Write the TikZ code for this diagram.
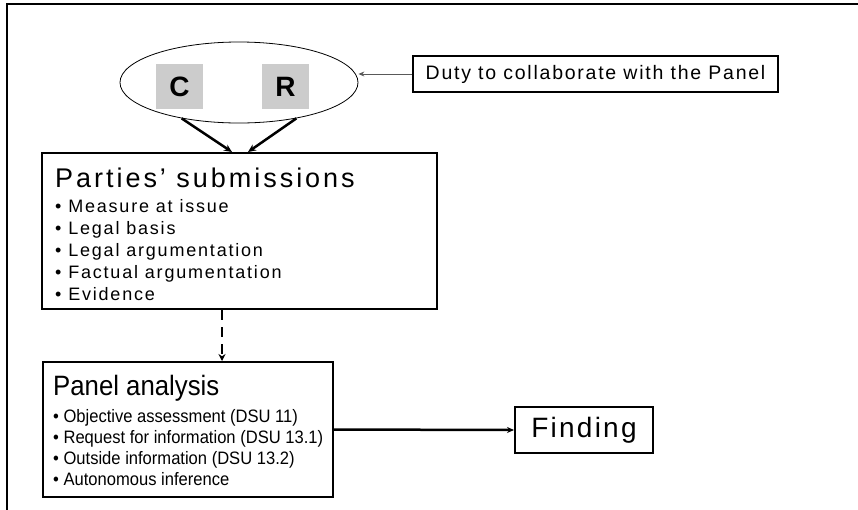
\documentclass[tikz,border=0pt]{standalone}
\usepackage{fontspec}
\setmainfont{Liberation Sans}
\newfontfamily\spreadfont[LetterSpace=10]{Liberation Sans}
\newfontfamily\dutyfont[LetterSpace=9]{Liberation Sans}
\newfontfamily\headfont[LetterSpace=11]{Liberation Sans}
\newfontfamily\findfont[LetterSpace=8]{Liberation Sans}
\newfontfamily\narrowfont[FakeStretch=0.92]{Liberation Sans}
\usetikzlibrary{shapes.geometric, arrows.meta, positioning, calc}

\tikzset{
    mainbox/.style={draw, line width=2pt},
    partybox/.style={fill=black!20, minimum width=47pt, minimum height=45pt,
        font=\fontsize{28pt}{28pt}\selectfont\bfseries},
    spreadtext/.style={anchor=base west, inner sep=0pt, font=\spreadfont\fontsize{18pt}{18pt}\selectfont},
    narrowtext/.style={anchor=base west, inner sep=0pt, font=\narrowfont\fontsize{18pt}{18pt}\selectfont}
}

\begin{document}
\begin{tikzpicture}[x=1pt, y=-1pt, >={Stealth[length=8pt, width=7pt]}]

    \useasboundingbox (0,0) rectangle (858,509);

    % Frame
    \draw[line width=1.4pt] (7,4) rectangle (880,530);

    % Parties (C and R)
    \node[draw, ellipse, line width=0.8pt, minimum width=238pt, minimum height=81pt] (parties) at (239,82.5) {};
    \node[partybox] (claimant) at (179.5,86.5) {C};
    \node[partybox] (respondent) at (285.5,86.5) {R};

    % Duty box
    \node[draw, line width=1.2pt, minimum width=365pt, minimum height=36pt,
        font=\dutyfont\fontsize{19.5pt}{19.5pt}\selectfont] (duty) at (595.5,74) {Duty to collaborate with the Panel};
    \draw[->, >={Stealth[length=6pt, width=5pt]}, line width=0.9pt, black!65] (duty.west) -- (duty.west -| parties.east);

    % Parties' submissions
    \node[mainbox, minimum width=395pt, minimum height=156pt] (subm) at (239.5,231) {};
    \node[anchor=base west, inner sep=0pt, font=\headfont\fontsize{27pt}{27pt}\selectfont] (submtitle) at (55,187) {Parties’ submissions};
    \foreach \entry [count=\i] in {Measure at issue, Legal basis, Legal argumentation, Factual argumentation, Evidence}
        \node[spreadtext] (subm\i) at (55,190+22*\i) {• \entry};

    \draw[->, line width=2.5pt] (parties.212) -- ($(subm.north)+(-7.5,0)$);
    \draw[->, line width=2.5pt] (parties.328) -- ($(subm.north)+(8.5,0)$);

    % Panel analysis
    \node[mainbox, minimum width=290pt, minimum height=135pt] (panel) at (188,429.5) {};
    \node[anchor=base west, inner sep=0pt, font=\narrowfont\fontsize{28pt}{28pt}\selectfont] (paneltitle) at (53,395) {Panel analysis};
    \foreach \entry [count=\i] in {Objective assessment (DSU 11), Request for information (DSU 13.1), Outside information (DSU 13.2), Autonomous inference}
        \node[narrowtext] (panel\i) at (53,401+21*\i) {• \entry};

    \coordinate (drop) at (222,0);
    \draw[->, line width=2.8pt, dash pattern=on 10pt off 7pt, >={Stealth[length=7pt, width=7pt]}] (subm.south -| drop) -- (panel.north -| drop);

    % Finding
    \node[mainbox, minimum width=138pt, minimum height=46pt,
        font=\findfont\fontsize{28pt}{28pt}\selectfont] (finding) at (584,430) {Finding};
    \draw[->, line width=2.5pt, >={Stealth[length=7pt, width=6pt]}] (panel.east) -- (finding.west);

\end{tikzpicture}
\end{document}
